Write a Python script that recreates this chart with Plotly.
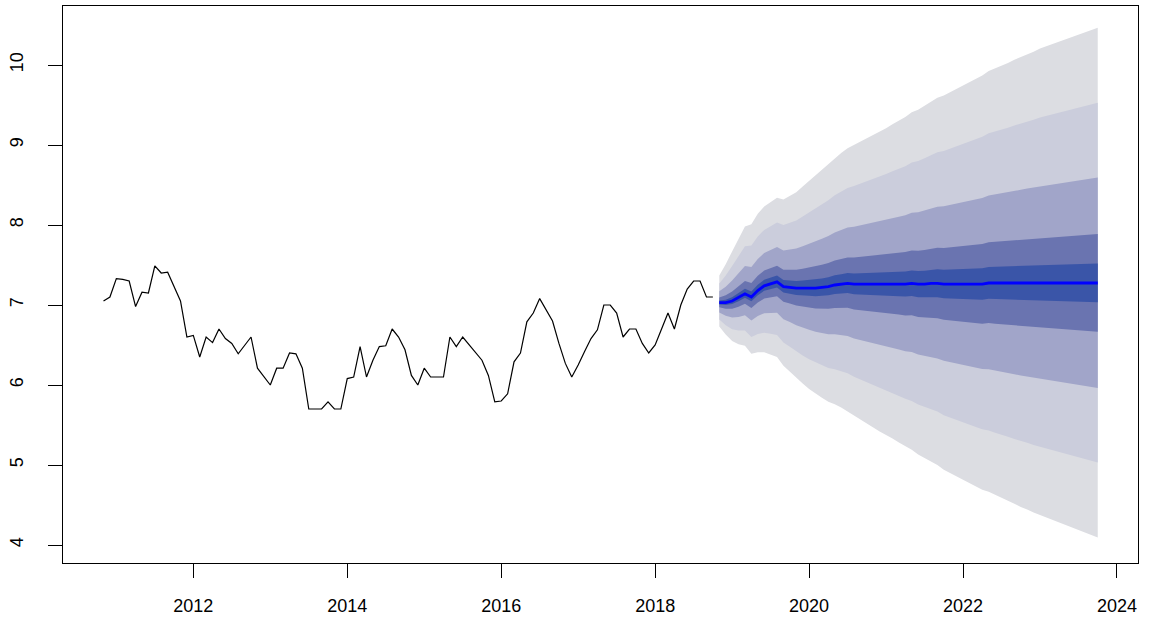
import plotly.graph_objects as go

# ---- data ----
hist_start = 2010 + 10/12          # Nov 2010, monthly
hist_values = [
    7.05, 7.10, 7.33, 7.32, 7.30, 6.98, 7.16, 7.15, 7.49, 7.40, 7.41, 7.23,
    7.05, 6.60, 6.62, 6.35, 6.60, 6.53, 6.70, 6.58, 6.52, 6.39, 6.50, 6.60,
    6.21, 6.10, 6.00, 6.21, 6.21, 6.40, 6.39, 6.21, 5.70, 5.70, 5.70, 5.79,
    5.70, 5.70, 6.08, 6.10, 6.48, 6.10, 6.31, 6.48, 6.49, 6.70, 6.60, 6.44,
    6.12, 6.00, 6.21, 6.10, 6.10, 6.10, 6.60, 6.48, 6.60, 6.50, 6.40, 6.31,
    6.12, 5.79, 5.80, 5.89, 6.29, 6.40, 6.79, 6.90, 7.08, 6.94, 6.80, 6.52,
    6.27, 6.10, 6.25, 6.42, 6.58, 6.69, 7.00, 7.00, 6.90, 6.60, 6.70, 6.70,
    6.52, 6.40, 6.50, 6.70, 6.90, 6.70, 7.00, 7.20, 7.30, 7.30, 7.10, 7.10,
]

fc_start = 2018 + 10/12            # Nov 2018, monthly, 60 steps
fc_mean = [
    7.03, 7.03, 7.05, 7.09, 7.14, 7.10, 7.18, 7.24, 7.27, 7.29, 7.23, 7.22,
    7.21, 7.21, 7.21, 7.21, 7.22, 7.23, 7.25, 7.26, 7.27, 7.26, 7.26, 7.26,
    7.26, 7.26, 7.26, 7.26, 7.26, 7.26, 7.27, 7.26, 7.26, 7.27, 7.27, 7.26,
    7.26, 7.26, 7.26, 7.26, 7.26, 7.26, 7.275, 7.275, 7.275, 7.275, 7.275, 7.275,
    7.275, 7.275, 7.275, 7.275, 7.275, 7.275, 7.275, 7.275, 7.275, 7.275, 7.275, 7.275,
]
# distance from the mean to the top of the outermost interval at each horizon
outer_up = [
    0.34, 0.48, 0.62, 0.74, 0.84, 0.91, 0.96, 0.99, 1.02, 1.05, 1.09, 1.14,
    1.20, 1.27, 1.34, 1.41, 1.47, 1.53, 1.59, 1.64, 1.69, 1.74, 1.78, 1.83,
    1.87, 1.91, 1.95, 2.00, 2.04, 2.09, 2.14, 2.18, 2.23, 2.27, 2.32, 2.36,
    2.40, 2.44, 2.48, 2.53, 2.57, 2.61, 2.65, 2.68, 2.72, 2.75, 2.79, 2.82,
    2.86, 2.89, 2.93, 2.96, 2.99, 3.02, 3.05, 3.08, 3.11, 3.14, 3.16, 3.19,
]
# distance from the mean to the bottom of the outermost interval
outer_down = [
    0.30, 0.40, 0.50, 0.58, 0.65, 0.71, 0.77, 0.83, 0.89, 0.94, 0.99, 1.05,
    1.12, 1.19, 1.26, 1.32, 1.38, 1.44, 1.49, 1.54, 1.59, 1.64, 1.69, 1.74,
    1.79, 1.84, 1.89, 1.93, 1.98, 2.03, 2.08, 2.13, 2.18, 2.23, 2.27, 2.32,
    2.36, 2.41, 2.45, 2.49, 2.53, 2.57, 2.61, 2.65, 2.69, 2.72, 2.76, 2.80,
    2.83, 2.87, 2.90, 2.94, 2.97, 3.00, 3.03, 3.06, 3.09, 3.12, 3.15, 3.18,
]
# relative width of each band (outer -> inner)
band_fraction = [1.0, 0.706, 0.413, 0.192, 0.076]
band_colors = ["#DCDDE2", "#CBCDDC", "#A1A5C9", "#6A74B0", "#3A55A8"]

x_ticks = [2012, 2014, 2016, 2018, 2020, 2022, 2024]
y_ticks = [4, 5, 6, 7, 8, 9, 10]

# ---- build ----
hist_x = [hist_start + i/12 for i in range(len(hist_values))]
fc_x = [fc_start + i/12 for i in range(len(fc_mean))]

fig = go.Figure()
for frac, col in zip(band_fraction, band_colors):
    upper = [m + frac*w for m, w in zip(fc_mean, outer_up)]
    lower = [m - frac*w for m, w in zip(fc_mean, outer_down)]
    fig.add_trace(go.Scatter(
        x=fc_x + fc_x[::-1], y=upper + lower[::-1],
        fill="toself", fillcolor=col, mode="lines",
        line=dict(width=0, color=col), hoverinfo="skip", showlegend=False))

fig.add_trace(go.Scatter(x=fc_x, y=fc_mean, mode="lines",
                         line=dict(color="#0000FF", width=2.8), showlegend=False))
fig.add_trace(go.Scatter(x=hist_x, y=hist_values, mode="lines",
                         line=dict(color="#000000", width=1.2), showlegend=False))

axis_common = dict(showgrid=False, zeroline=False, showline=True, mirror=True,
                   linecolor="#000000", linewidth=1, ticks="outside",
                   ticklen=14, tickwidth=1, tickcolor="#000000", automargin=False,
                   tickfont=dict(family="Liberation Sans, Arial", size=18, color="#000000"))

fig.update_layout(
    width=1154, height=620,
    margin=dict(l=63, r=16, t=6, b=57, autoexpand=False),
    paper_bgcolor="white", plot_bgcolor="white",
    xaxis=dict(range=[2010.307, 2024.273], tickvals=x_ticks,
               ticktext=[str(t) for t in x_ticks], ticklabelstandoff=12, **axis_common),
    yaxis=dict(range=[3.775, 10.7375], tickvals=y_ticks,
               ticktext=[str(t) for t in y_ticks], tickangle=-90,
               ticklabelstandoff=18, **axis_common),
)

fig.write_html("out.html", config={"displayModeBar": False},
               post_script="document.body.style.margin='0px';document.body.style.overflow='hidden';")
